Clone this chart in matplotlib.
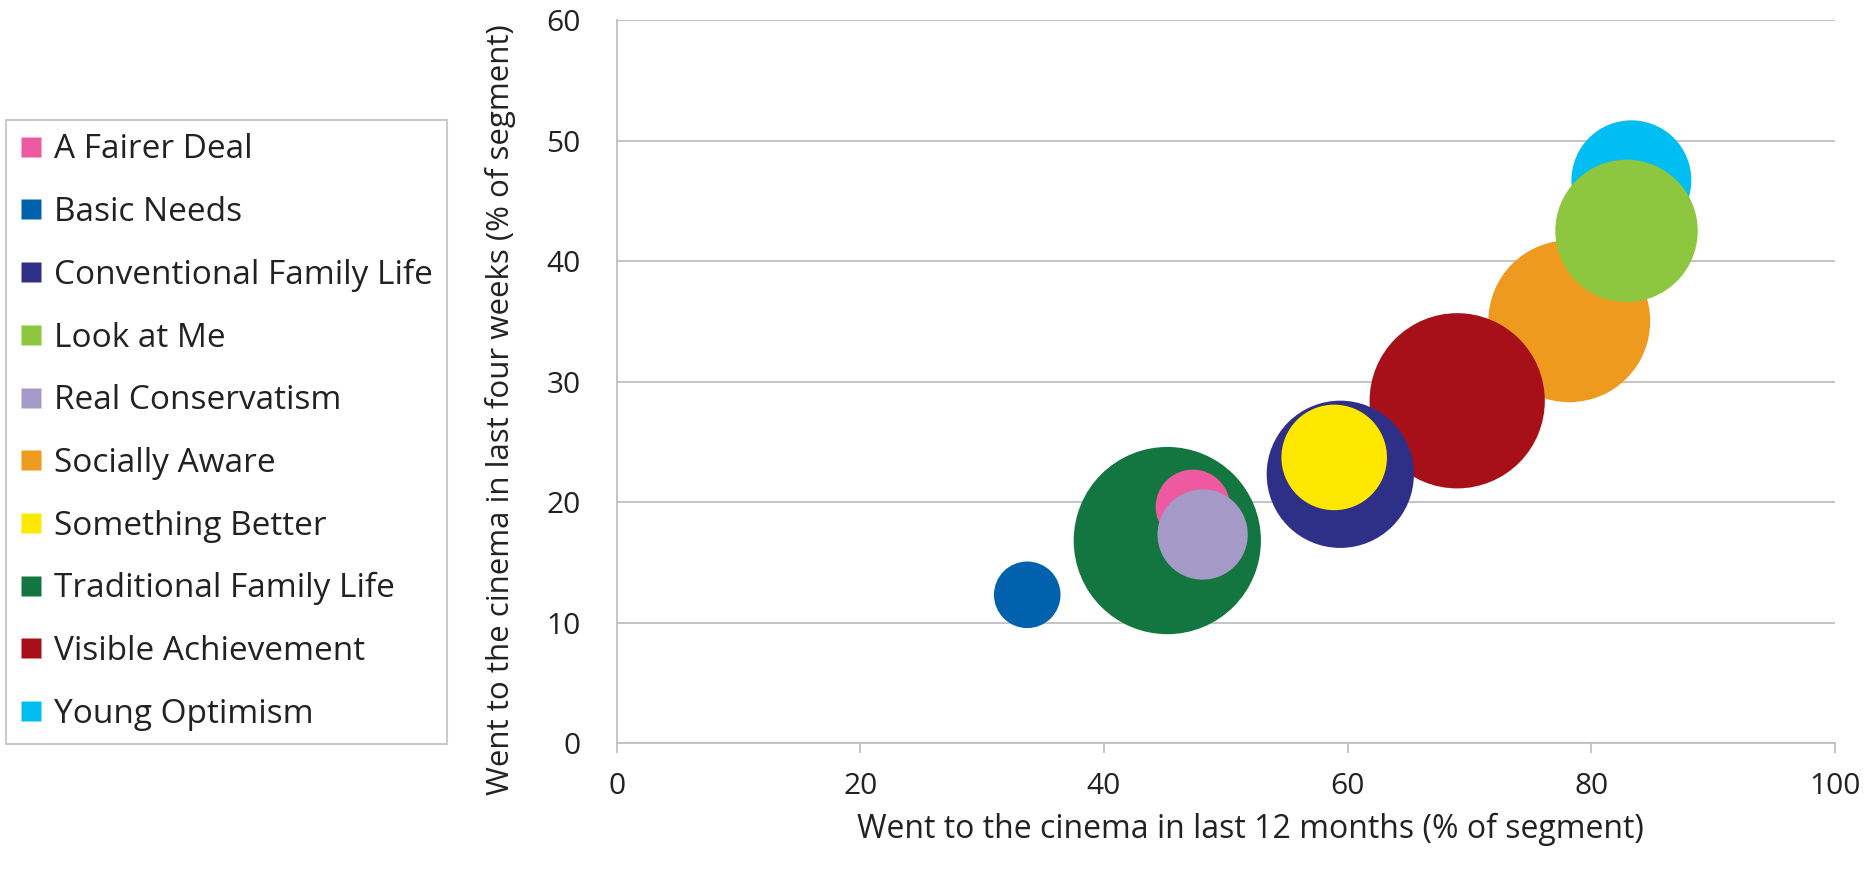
import matplotlib
matplotlib.use('Agg')
import matplotlib.pyplot as plt
from matplotlib.lines import Line2D
import numpy as np

plt.rcParams['font.family'] = ['Open Sans', 'DejaVu Sans']

# segments, values
segments = ['A Fairer Deal', 'Basic Needs', 'Conventional Family Life', 'Look at Me',
            'Real Conservatism', 'Socially Aware', 'Something Better',
            'Traditional Family Life', 'Visible Achievement', 'Young Optimism']
last_12_months = [47.3, 33.7, 59.4, 82.9, 48.1, 78.2, 58.9, 45.2, 69.0, 83.3]
last_4_weeks = [19.6, 12.3, 22.3, 42.5, 17.3, 35.0, 23.7, 16.8, 28.4, 46.7]
bubble_size = [13.9, 11.1, 54.3, 50.8, 20.4, 65.6, 27.9, 87.8, 76.9, 36.0]

colors = ['#EE5A9F', '#0062AD', '#2E3087', '#8DC63F', '#A599C8',
          '#ED9A1E', '#FFE800', '#137540', '#A71018', '#00BEF2']
# stacking order seen in the picture (bottom -> top)
draw_order = [9, 5, 3, 8, 2, 6, 7, 0, 4, 1]

fig = plt.figure(figsize=(18.69, 8.82), dpi=100)
ax = fig.add_axes([0.330, 0.1576, 0.6517, 0.8197])

sizes = np.array(bubble_size) * 207.0
for z, i in enumerate(draw_order):
    ax.scatter(last_12_months[i], last_4_weeks[i], s=sizes[i],
               color=colors[i], edgecolors='none', zorder=3 + z,
               label=segments[i])

ax.set_xlim(0, 100)
ax.set_ylim(0, 60)
ax.set_xticks(range(0, 101, 20))
ax.set_yticks(range(0, 61, 10))
ax.grid(axis='y', color='#BFBFBF', lw=1.3)
ax.set_axisbelow(True)
for s in ['top', 'right']:
    ax.spines[s].set_visible(False)
for s in ['left', 'bottom']:
    ax.spines[s].set_color('#BFBFBF')
    ax.spines[s].set_linewidth(1.3)
ax.tick_params(axis='x', length=7, width=1.3, color='#BFBFBF', pad=14,
               labelsize=21.5, labelcolor='#222222')
ax.tick_params(axis='y', length=0, pad=26, labelsize=21.5, labelcolor='#222222')

ax.set_xlabel('Went to the cinema in last 12 months (% of segment)',
              fontsize=23, color='#222222')
ax.xaxis.set_label_coords(0.52, -0.097)
ax.set_ylabel('Went to the cinema in last four weeks (% of segment)',
              fontsize=22.5, color='#222222')
ax.yaxis.set_label_coords(-0.083, 0.461)

leg_handles = [Line2D([], [], marker='s', ls='none', markersize=14,
                      markerfacecolor=c, markeredgecolor='none') for c in colors]
leg = fig.legend(leg_handles, segments, loc='upper left',
                 bbox_to_anchor=(0.0032, 1 - 120 / 882), fontsize=24,
                 frameon=True, fancybox=False, edgecolor='#BFBFBF',
                 handlelength=0.7, handletextpad=0.35, labelspacing=0.89,
                 borderpad=0.4, borderaxespad=0)
leg.get_frame().set_linewidth(1.5)
for t in leg.get_texts():
    t.set_color('#222222')

fig.savefig('out.png', dpi=100)
